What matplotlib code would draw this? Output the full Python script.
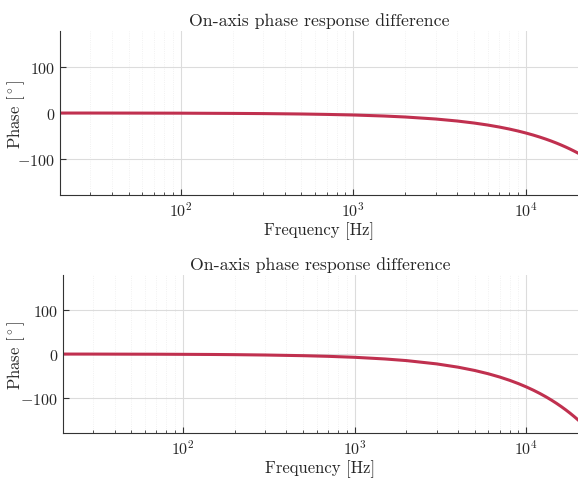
import numpy as np
import matplotlib
matplotlib.use('Agg')
import matplotlib.pyplot as plt
from matplotlib.ticker import LogLocator, NullFormatter

plt.rcParams['font.family'] = 'serif'
plt.rcParams['font.serif'] = ['cmr10']
plt.rcParams['mathtext.fontset'] = 'cm'
plt.rcParams['axes.unicode_minus'] = False
plt.rcParams['axes.formatter.use_mathtext'] = True

# frequencies [Hz]
freqs = [20, 30, 50, 70, 100, 150, 200, 300, 500, 700, 1000, 1500, 2000, 3000,
         4000, 5000, 6000, 7000, 8000, 9000, 10000, 11000, 12000, 13000, 14000,
         15000, 16000, 17000, 18000, 19000, 20000]
# phase difference [deg], upper panel
phase_top = [-0.1, -0.1, -0.2, -0.3, -0.4, -0.7, -0.9, -1.3, -2.2, -3.1, -4.4,
             -6.6, -8.8, -13.2, -17.6, -22.0, -26.4, -30.8, -35.2, -39.6, -44.0,
             -48.4, -52.8, -57.2, -61.6, -66.0, -70.4, -74.8, -79.2, -83.6, -88.0]
# phase difference [deg], lower panel
phase_bot = [-0.15, -0.2, -0.4, -0.5, -0.75, -1.1, -1.5, -2.3, -3.8, -5.3, -7.5,
             -11.3, -15.0, -22.5, -30.0, -37.5, -45.0, -52.5, -60.0, -67.5, -75.0,
             -82.5, -90.0, -97.5, -105.0, -112.5, -120.0, -127.5, -135.0, -142.5, -150.0]

title = 'On-axis phase response difference'
line_col = '#c0304f'
txt_col = '#262626'

fig = plt.figure(figsize=(5.78, 4.81), dpi=100)
ax1 = fig.add_axes([0.1038, 0.5925, 0.8962, 0.341])
ax2 = fig.add_axes([0.109, 0.0977, 0.891, 0.3285])

for ax, ph, ylx in [(ax1, phase_top, -0.063), (ax2, phase_bot, -0.069)]:
    ax.plot(freqs, ph, color=line_col, linewidth=2.2)
    ax.set_xscale('log')
    ax.set_xlim(20, 20000)
    ax.set_ylim(-180, 180)
    ax.set_yticks([-100, 0, 100])
    ax.xaxis.set_minor_locator(LogLocator(base=10, subs=np.arange(2, 10)))
    ax.xaxis.set_minor_formatter(NullFormatter())
    ax.spines['right'].set_visible(False)
    ax.spines['top'].set_visible(False)
    ax.spines['left'].set_color('#333333')
    ax.spines['bottom'].set_color('#333333')
    ax.grid(which='major', color='#dcdcdc', linewidth=0.8)
    ax.grid(which='minor', axis='x', color='#ededed', linewidth=0.6, linestyle=':')
    ax.set_axisbelow(True)
    ax.tick_params(which='both', direction='in', colors='#333333', labelcolor=txt_col,
                   labelsize=11.5)
    ax.tick_params(which='major', length=4)
    ax.tick_params(which='minor', length=2.5)
    ax.set_title(title, fontsize=12.8, color=txt_col, pad=4)
    ax.set_xlabel('Frequency [Hz]', fontsize=12, color=txt_col, labelpad=2)
    ax.set_ylabel(r'Phase [$^\circ$]', fontsize=12, color=txt_col)
    ax.yaxis.set_label_coords(ylx, 0.5)

fig.savefig('out.png', dpi=100)
